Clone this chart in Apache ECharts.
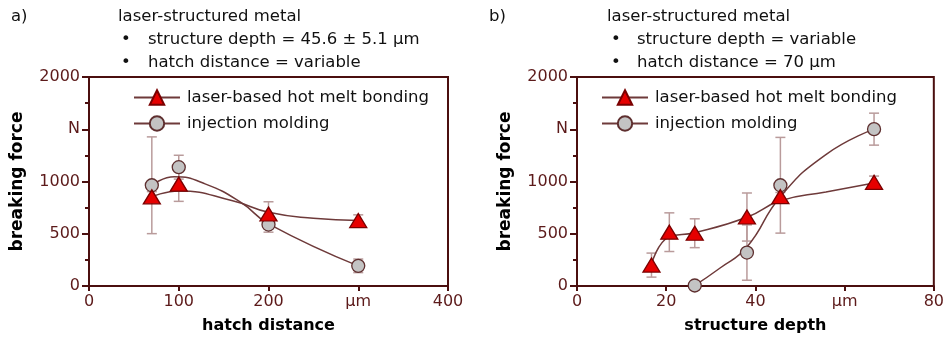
<!DOCTYPE html>
<html>
<head>
<meta charset="utf-8">
<script src="https://cdn.jsdelivr.net/npm/echarts@6/dist/echarts.min.js"></script>
<style>
html, body { margin: 0; padding: 0; background: #fff; }
#chart { width: 947px; height: 339px; }
</style>
</head>
<body>
<div id="chart"></div>
<script>
// a) hatch distance varies
var hatchDist = [70, 100, 200, 300];
var hmbA = [853, 975, 689, 626];
var hmbErrA = [50, 165, 117, 55];
var imA = [964, 1137, 588, 193];
var imErrA = [463, 114, 73, 65];
// fitted curves
var hmbFitA = [[70, 853], [100, 910], [160, 815], [200, 705], [250, 648], [300, 626]];
var imFitA = [[70, 964], [95, 1045], [130, 975], [170, 795], [200, 595], [300, 193]];

// b) structure depth varies
var depthHmb = [16.7, 20.7, 26.4, 38.1, 45.6, 66.6];
var hmbB = [200, 515, 505, 660, 855, 992];
var hmbErrB = [115, 185, 138, 230, 40, 60];
var depthIm = [26.4, 38.1, 45.6, 66.6];
var imB = [5, 320, 964, 1501];
var imErrB = [0, 265, 458, 153];
var hmbFitB = [[16.7, 206], [20.7, 470], [26.4, 510], [38.1, 658], [45.6, 815], [55.8, 900], [66.6, 985]];
var imFitB = [[26.4, 5], [32, 170], [38.1, 373], [45.6, 855], [55.8, 1258], [66.6, 1501]];

var yTicks = { 0: '0', 500: '500', 1000: '1000', 1500: 'N', 2000: '2000' };

var axisColor = '#4b0f0f';
var labelColor = '#5c1a1a';
var curveColor = '#6e3a3a';
var errColor = '#b99b9b';
var font = '"DejaVu Sans", sans-serif';

var myChart = echarts.init(document.getElementById('chart'));

function pairs(xs, ys) {
    return xs.map(function (x, i) { return [x, ys[i]]; });
}
function bars(xs, ys, es) {
    return xs.map(function (x, i) { return [x, ys[i] - es[i], ys[i] + es[i]]; });
}

function errorBarItem(params, api) {
    var top = api.coord([api.value(0), api.value(2)]);
    var bot = api.coord([api.value(0), api.value(1)]);
    var w = 5;
    var style = { stroke: errColor, lineWidth: 1.5 };
    return {
        type: 'group',
        children: [
            { type: 'line', shape: { x1: top[0], y1: top[1], x2: bot[0], y2: bot[1] }, style: style },
            { type: 'line', shape: { x1: top[0] - w, y1: top[1], x2: top[0] + w, y2: top[1] }, style: style },
            { type: 'line', shape: { x1: bot[0] - w, y1: bot[1], x2: bot[0] + w, y2: bot[1] }, style: style }
        ]
    };
}

function xAxis(idx, max, interval, umAt, name) {
    return {
        gridIndex: idx,
        type: 'value',
        min: 0,
        max: max,
        interval: interval,
        splitLine: { show: false },
        axisLine: { onZero: false, lineStyle: { color: axisColor, width: 2 } },
        axisTick: { length: 5, lineStyle: { color: axisColor, width: 2 } },
        axisLabel: {
            margin: 8,
            color: labelColor,
            fontSize: 16,
            fontFamily: font,
            formatter: function (v) { return v === umAt ? 'µm' : String(v); }
        },
        name: name,
        nameLocation: 'middle',
        nameGap: 32,
        nameTextStyle: { color: '#000', fontSize: 16, fontWeight: 'bold', fontFamily: font }
    };
}

function yAxis(idx) {
    return {
        gridIndex: idx,
        type: 'value',
        min: 0,
        max: 2000,
        interval: 500,
        splitLine: { show: false },
        axisLine: { onZero: false, lineStyle: { color: axisColor, width: 2 } },
        axisTick: { length: 7, lineStyle: { color: axisColor, width: 2 } },
        minorTick: { show: true, splitNumber: 2, length: 4, lineStyle: { color: axisColor, width: 2 } },
        axisLabel: {
            margin: 9,
            color: labelColor,
            fontSize: 16,
            fontFamily: font,
            formatter: function (v) { return yTicks[v]; }
        },
        name: 'breaking force',
        nameLocation: 'middle',
        nameGap: 63,
        nameTextStyle: { color: '#000', fontSize: 17, fontWeight: 'bold', fontFamily: font }
    };
}

function curve(name, idx, data, symbol, fill, border) {
    return {
        name: name,
        type: 'line',
        xAxisIndex: idx,
        yAxisIndex: idx,
        smooth: 0.5,
        showSymbol: false,
        symbol: symbol,
        data: data,
        z: 3,
        lineStyle: { color: curveColor, width: 1.5 },
        itemStyle: { color: fill, borderColor: border, borderWidth: 1.2 }
    };
}

function markers(name, idx, data, symbol, size, fill, border, z) {
    return {
        name: name,
        type: 'scatter',
        xAxisIndex: idx,
        yAxisIndex: idx,
        symbol: symbol,
        symbolSize: size,
        data: data,
        z: z,
        itemStyle: { color: fill, borderColor: border, borderWidth: 1.3, opacity: 1 }
    };
}

function errors(idx, data) {
    return {
        type: 'custom',
        xAxisIndex: idx,
        yAxisIndex: idx,
        renderItem: errorBarItem,
        data: data,
        z: 2,
        silent: true
    };
}

var HMB = 'laser-based hot melt bonding';
var IM = 'injection molding';
var triFill = '#e60000', triBorder = '#7a0000';
var cirFill = '#c3c3c3', cirBorder = '#5e2f2f';
var triSize = [17, 14];
var cirSize = 13;

function headerText(x, y, text) {
    return {
        type: 'text',
        x: x,
        y: y,
        style: { text: text, font: '16.5px "DejaVu Sans", sans-serif', fill: '#111', verticalAlign: 'middle' }
    };
}

function legend(left) {
    return {
        data: [HMB, IM],
        orient: 'vertical',
        left: left,
        top: 84,
        itemWidth: 46,
        itemHeight: 18,
        itemGap: 9,
        selectedMode: false,
        textStyle: { color: '#111', fontSize: 16.5, fontFamily: font, padding: [0, 0, 0, 2] }
    };
}

var option = {
    animation: false,
    backgroundColor: '#fff',
    graphic: [
        headerText(11, 17, 'a)'),
        headerText(118, 17, 'laser-structured metal'),
        headerText(121, 40, '•'),
        headerText(148, 40, 'structure depth = 45.6 ± 5.1 µm'),
        headerText(121, 63, '•'),
        headerText(148, 63, 'hatch distance = variable'),
        headerText(489, 17, 'b)'),
        headerText(607, 17, 'laser-structured metal'),
        headerText(611, 40, '•'),
        headerText(637, 40, 'structure depth = variable'),
        headerText(611, 63, '•'),
        headerText(637, 63, 'hatch distance = 70 µm')
    ],
    legend: [legend(128), legend(596)],
    grid: [
        { left: 89, right: 499, top: 77, bottom: 51, show: true, borderColor: axisColor, borderWidth: 2 },
        { left: 577, right: 12, top: 77, bottom: 51, show: true, borderColor: axisColor, borderWidth: 2 }
    ],
    xAxis: [
        xAxis(0, 400, 100, 300, 'hatch distance'),
        xAxis(1, 80, 20, 60, 'structure depth')
    ],
    yAxis: [yAxis(0), yAxis(1)],
    series: [
        errors(0, bars(hatchDist, imA, imErrA)),
        errors(0, bars(hatchDist, hmbA, hmbErrA)),
        curve(IM, 0, imFitA, 'circle', cirFill, cirBorder),
        curve(HMB, 0, hmbFitA, 'triangle', triFill, triBorder),
        markers(IM + ' points', 0, pairs(hatchDist, imA), 'circle', cirSize, cirFill, cirBorder, 4),
        markers(HMB + ' points', 0, pairs(hatchDist, hmbA), 'triangle', triSize, triFill, triBorder, 5),

        errors(1, bars(depthIm, imB, imErrB)),
        errors(1, bars(depthHmb, hmbB, hmbErrB)),
        curve(IM, 1, imFitB, 'circle', cirFill, cirBorder),
        curve(HMB, 1, hmbFitB, 'triangle', triFill, triBorder),
        markers(IM + ' points', 1, pairs(depthIm, imB), 'circle', cirSize, cirFill, cirBorder, 4),
        markers(HMB + ' points', 1, pairs(depthHmb, hmbB), 'triangle', triSize, triFill, triBorder, 5)
    ]
};

myChart.setOption(option);
</script>
</body>
</html>
